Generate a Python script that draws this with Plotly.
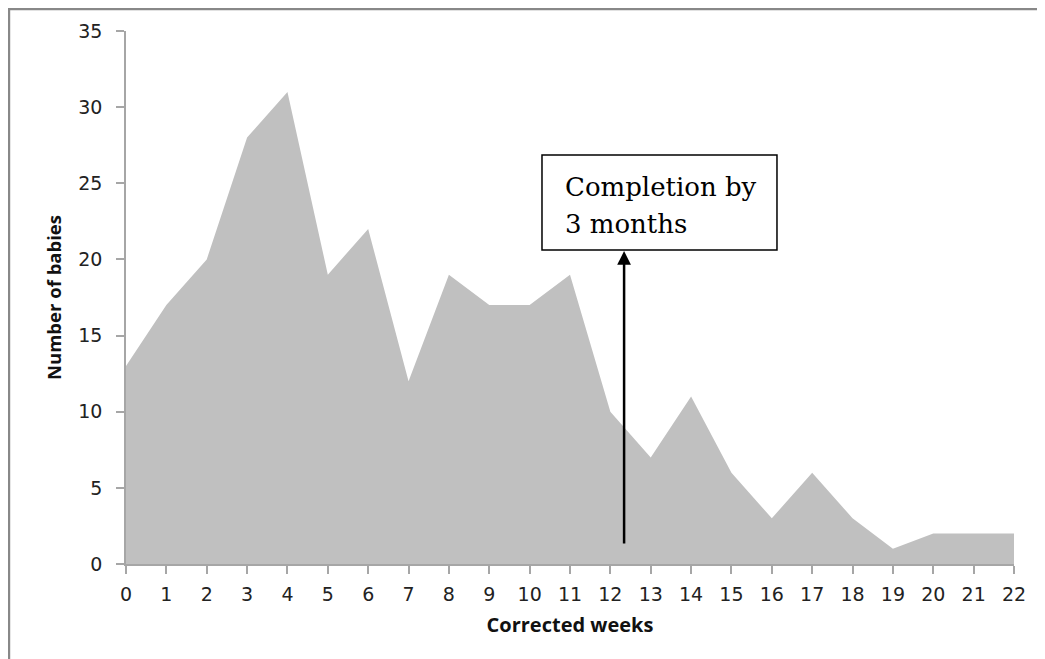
import plotly.graph_objects as go

weeks = list(range(0, 23))
babies = [13, 17, 20, 28, 31, 19, 22, 12, 19, 17, 17, 19, 10, 7, 11, 6, 3, 6, 3, 1, 2, 2, 2]
y_ticks = [0, 5, 10, 15, 20, 25, 30, 35]

arrow_x = 12.34
arrow_y_start = 1.25
arrow_y_end = 20.55

box_x0, box_x1 = 10.306, 16.128
box_y0, box_y1 = 20.62, 26.86
box_lines = ["Completion by", "3 months"]
box_line_y = [24.76, 22.33]

fig = go.Figure()
fig.add_trace(go.Scatter(
    x=weeks, y=babies, mode="lines", fill="tozeroy",
    fillcolor="#c0c0c0", line=dict(color="#c0c0c0", width=0),
    hoverinfo="skip", showlegend=False,
))

axis_color = "#a6a6a6"
tick_font = dict(family="DejaVu Sans", size=19, color="#222222")
title_font_x = dict(family="Open Sans", size=20, color="#111111")
title_font_y = dict(family="Open Sans", size=18.5, color="#111111")

fig.update_layout(
    width=1037, height=651,
    margin=dict(l=118, r=31, t=23, b=95),
    paper_bgcolor="white", plot_bgcolor="white",
    xaxis=dict(
        range=[0, 22], tickmode="array", tickvals=weeks, ticktext=[str(w) for w in weeks],
        showgrid=False, zeroline=False, showline=True, linecolor=axis_color, linewidth=1.5,
        ticks="outside", ticklen=8, tickcolor=axis_color, tickwidth=1.5,
        tickfont=tick_font, ticklabelstandoff=4,
        title=dict(text="<b>Corrected weeks</b>", font=title_font_x, standoff=14),
    ),
    yaxis=dict(
        range=[0, 35], tickmode="array", tickvals=y_ticks, ticktext=[str(v) for v in y_ticks],
        showgrid=False, zeroline=False, showline=True, linecolor=axis_color, linewidth=1.5,
        ticks="outside", ticklen=8, tickcolor=axis_color, tickwidth=1.5,
        tickfont=tick_font, ticklabelstandoff=10,
        title=dict(text="<b>Number of babies</b>", font=title_font_y, standoff=12),
    ),
)

# Outer frame (top and left edges visible)
fig.add_shape(type="line", xref="paper", yref="paper",
              x0=-0.135, x1=1.05, y0=1.0413, y1=1.0413,
              line=dict(color="#888888", width=2.5))
fig.add_shape(type="line", xref="paper", yref="paper",
              x0=-0.1318, x1=-0.1318, y0=-0.2, y1=1.045,
              line=dict(color="#888888", width=2.5))

# Arrow
fig.add_annotation(
    x=arrow_x, y=arrow_y_end, ax=arrow_x, ay=arrow_y_start,
    xref="x", yref="y", axref="x", ayref="y",
    showarrow=True, arrowhead=2, arrowsize=1.1, arrowwidth=2.5, arrowcolor="black",
    text="",
)

# Text box
fig.add_shape(type="rect", xref="x", yref="y",
              x0=box_x0, x1=box_x1, y0=box_y0, y1=box_y1,
              fillcolor="white", line=dict(color="black", width=1.5))
for line_text, ly in zip(box_lines, box_line_y):
    fig.add_annotation(
        x=10.83, y=ly, xref="x", yref="y", xanchor="left", yanchor="middle",
        text=line_text, showarrow=False, align="left",
        font=dict(family="DejaVu Serif", size=26, color="black"),
    )

fig.write_html("out.html")
